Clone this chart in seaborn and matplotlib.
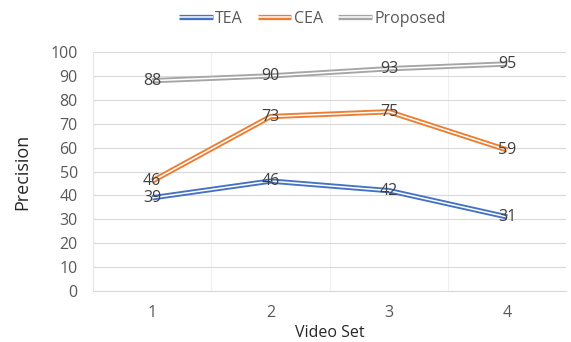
import matplotlib
matplotlib.use("Agg")
import matplotlib.pyplot as plt
import matplotlib.patheffects as pe
from matplotlib.lines import Line2D
import seaborn as sns
import pandas as pd

video_sets = [1, 2, 3, 4]
tea = [39, 46, 42, 31]
cea = [46, 73, 75, 59]
proposed = [88, 90, 93, 95]
series_names = ["TEA", "CEA", "Proposed"]
colors = ["#4472C4", "#ED7D31", "#A5A5A5"]
y_ticks = [0, 10, 20, 30, 40, 50, 60, 70, 80, 90, 100]

df = pd.DataFrame({
    "Video Set": video_sets * 3,
    "Precision": tea + cea + proposed,
    "Series": sum([[n] * 4 for n in series_names], []),
})

sns.set_theme(style="white")
plt.rcParams["font.family"] = ["Open Sans", "DejaVu Sans"]

fig = plt.figure(figsize=(5.71, 3.42), dpi=100)
ax = fig.add_axes([0.163, 0.149, 0.829, 0.699])

sns.lineplot(data=df, x="Video Set", y="Precision", hue="Series",
             palette=dict(zip(series_names, colors)), hue_order=series_names,
             linewidth=1.1, legend=False, ax=ax)

def effects(col):
    return [pe.Stroke(linewidth=3.8, foreground=col, capstyle="butt"), pe.Normal()]

handles = []
for line, col, name in zip(ax.lines, colors, series_names):
    line.set_color("white")
    line.set_linewidth(1.1)
    line.set_solid_capstyle("butt")
    line.set_path_effects(effects(col))
    h = Line2D([0], [0], color="white", lw=1.1, solid_capstyle="butt",
               path_effects=effects(col))
    handles.append(h)

for vals in [tea, cea, proposed]:
    for x, v in zip(video_sets, vals):
        ax.text(x, v, str(v), ha="center", va="center", fontsize=11.5, color="#404040")

ax.set_xlim(0.5, 4.5)
ax.set_ylim(0, 100)
ax.set_yticks(y_ticks)
ax.set_xticks(video_sets)
ax.set_xticks([1.5, 2.5, 3.5], minor=True)
ax.grid(axis="y", which="major", color="#D9D9D9", linewidth=0.8)
ax.grid(axis="x", which="minor", color="#F0F0F0", linewidth=0.8)
ax.tick_params(axis="both", which="both", length=0, labelsize=11.5, labelcolor="#595959")
ax.tick_params(axis="y", pad=11)
ax.tick_params(axis="x", pad=10)
for s in ["top", "right"]:
    ax.spines[s].set_visible(False)
ax.spines["left"].set_color("#E6E6E6")
ax.spines["bottom"].set_color("#D9D9D9")
ax.spines["left"].set_linewidth(0.8)
ax.spines["bottom"].set_linewidth(0.8)

ax.set_xlabel("Video Set", fontsize=11.5, color="#262626", labelpad=3)
ax.set_ylabel("Precision", fontsize=13, color="#262626", labelpad=14)

fig.legend(handles, series_names, loc="center", bbox_to_anchor=(0.547, 0.945), ncol=3,
           frameon=False, fontsize=11.5, handlelength=2.1, columnspacing=0.95,
           handletextpad=0.15, labelcolor="#595959")

fig.savefig("out.png", dpi=100)
